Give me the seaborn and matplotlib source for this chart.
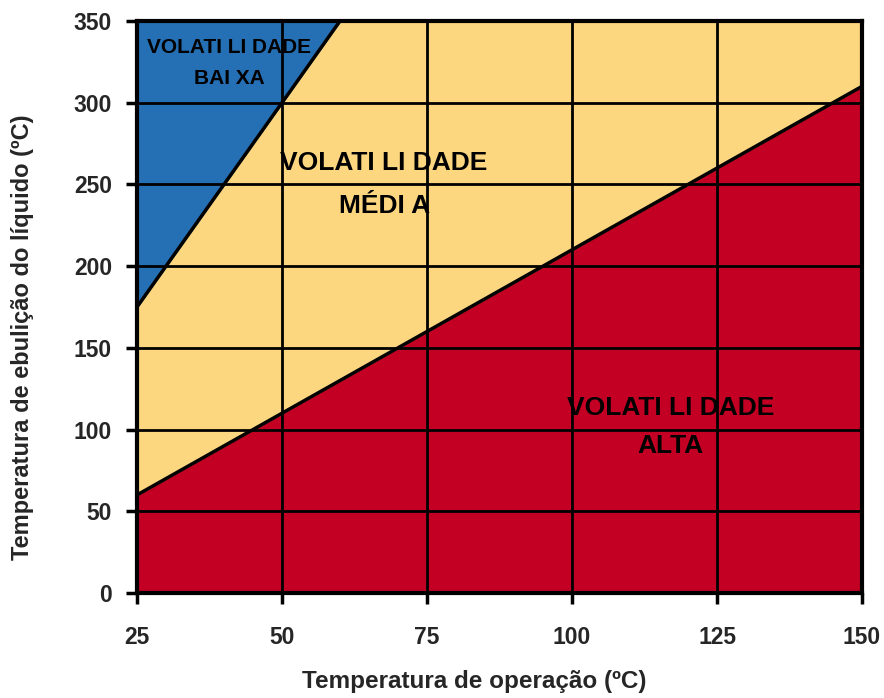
import numpy as np
import pandas as pd
import seaborn as sns
import matplotlib.pyplot as plt

# boundaries
temp_op = [25, 50, 60, 75, 100, 125, 150]
lim_alta = [60, 110, 130, 160, 210, 260, 310]     # below -> volatilidade alta
lim_baixa = [175, 300, 350, 350, 350, 350, 350]   # above -> volatilidade baixa

x_ticks = [25, 50, 75, 100, 125, 150]
y_ticks = [0, 50, 100, 150, 200, 250, 300, 350]

c_blue = '#2570b5'
c_yellow = '#fdd780'
c_red = '#c30024'

sns.set_style('white')
plt.rcParams['font.family'] = ['Liberation Sans', 'DejaVu Sans']

df = pd.DataFrame({'x': temp_op, 'alta': lim_alta, 'baixa': lim_baixa})

fig = plt.figure(figsize=(8.84, 6.98), dpi=100)
ax = fig.add_axes([137/884, 105/698, 725/884, 572/698])

# regions
ax.fill_between(df['x'], 0, df['alta'], color=c_red, zorder=1)
ax.fill_between(df['x'], df['alta'], 350, color=c_yellow, zorder=1)
ax.fill_between(df['x'], df['baixa'], 350, color=c_blue, zorder=1)

# grid
for v in x_ticks[1:-1]:
    ax.axvline(v, color='black', lw=2, zorder=2)
for v in y_ticks[1:-1]:
    ax.axhline(v, color='black', lw=2, zorder=2)

# boundary lines
sns.lineplot(data=df, x='x', y='alta', ax=ax, color='black', lw=2.5, zorder=3)
d2 = df[df['x'] <= 60]
sns.lineplot(data=d2, x='x', y='baixa', ax=ax, color='black', lw=2.5, zorder=3)

ax.set_xlim(25, 150)
ax.set_ylim(0, 350)
ax.set_xticks(x_ticks)
ax.set_yticks(y_ticks)
ax.tick_params(axis='both', direction='out', length=8, width=2.5, color='black',
               labelsize=16.5, bottom=True, left=True)
ax.tick_params(axis='x', pad=16)
ax.tick_params(axis='y', pad=10)
for lab in ax.get_xticklabels() + ax.get_yticklabels():
    lab.set_fontweight('bold')
for s in ax.spines.values():
    s.set_linewidth(3)
    s.set_color('black')
    s.set_zorder(4)

ax.set_xlabel('Temperatura de operação (ºC)', fontsize=17.5, fontweight='bold')
ax.set_ylabel('Temperatura de ebulição do líquido (ºC)', fontsize=17, fontweight='bold')
ax.xaxis.set_label_coords((474 - 137) / 725, (593 - 670) / 572)
ax.yaxis.label.set_va('center')
ax.yaxis.set_label_coords((23 - 137) / 725, (593 - 337) / 572)

lbl = dict(fontweight='bold', ha='center', va='center', color='black', zorder=5)
ax.text(40.9, 334, 'VOLATI LI DADE', fontsize=15, **lbl)
ax.text(40.9, 315, 'BAI XA', fontsize=15, **lbl)
ax.text(67.6, 263, 'VOLATI LI DADE', fontsize=19, **lbl)
ax.text(67.6, 237, 'MÉDI A', fontsize=19, **lbl)
ax.text(117, 113, 'VOLATI LI DADE', fontsize=19, **lbl)
ax.text(117, 90, 'ALTA', fontsize=19, **lbl)

fig.savefig('out.png', dpi=100)
